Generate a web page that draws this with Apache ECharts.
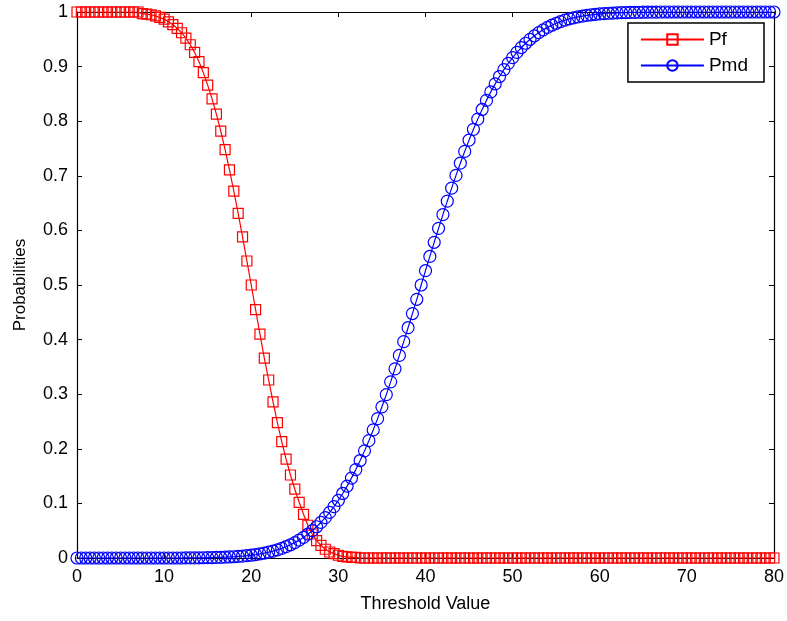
<!DOCTYPE html>
<html>
<head>
<meta charset="utf-8">
<script src="https://cdn.jsdelivr.net/npm/echarts@6/dist/echarts.min.js"></script>
<style>html,body{margin:0;padding:0;background:#fff;}#c{width:787px;height:621px;}</style>
</head>
<body>
<div id="c"></div>
<script>
var thresholds = [
0,0.5,1,1.5,2,2.5,3,3.5,4,4.5,5,5.5,6,6.5,7,7.5,8,8.5,9,9.5,
10,10.5,11,11.5,12,12.5,13,13.5,14,14.5,15,15.5,16,16.5,17,17.5,18,18.5,19,19.5,
20,20.5,21,21.5,22,22.5,23,23.5,24,24.5,25,25.5,26,26.5,27,27.5,28,28.5,29,29.5,
30,30.5,31,31.5,32,32.5,33,33.5,34,34.5,35,35.5,36,36.5,37,37.5,38,38.5,39,39.5,
40,40.5,41,41.5,42,42.5,43,43.5,44,44.5,45,45.5,46,46.5,47,47.5,48,48.5,49,49.5,
50,50.5,51,51.5,52,52.5,53,53.5,54,54.5,55,55.5,56,56.5,57,57.5,58,58.5,59,59.5,
60,60.5,61,61.5,62,62.5,63,63.5,64,64.5,65,65.5,66,66.5,67,67.5,68,68.5,69,69.5,
70,70.5,71,71.5,72,72.5,73,73.5,74,74.5,75,75.5,76,76.5,77,77.5,78,78.5,79,79.5,
80];

var pf = [
1,1,1,1,1,1,1,1,1,1,1,1,1,1,1,
0.997,0.996,0.995,0.993,0.990,0.987,0.982,0.977,0.970,0.962,
0.952,0.940,0.926,0.909,0.889,0.866,0.841,0.813,0.782,0.748,
0.711,0.672,0.631,0.588,0.544,0.500,0.455,0.410,0.366,0.326,
0.286,0.248,0.213,0.181,0.152,0.126,0.102,0.080,0.060,0.044,
0.032,0.023,0.016,0.011,0.008,0.005,0.003,0.002,0.001,0.001,
0,0,0,0,0,0,0,0,0,0,0,0,0,0,0,0,0,0,0,0,
0,0,0,0,0,0,0,0,0,0,0,0,0,0,0,0,0,0,0,0,
0,0,0,0,0,0,0,0,0,0,0,0,0,0,0,0,0,0,0,0,
0,0,0,0,0,0,0,0,0,0,0,0,0,0,0,0,0,0,0,0,
0,0,0,0,0,0,0,0,0,0,0,0,0,0,0,0];

var pmd = [
0,0,0,0,0,0,0,0,0,0,0,0,0,0,0,0,0,0,0,0,0,0,0,0,0,
0.0002,0.0002,0.0003,0.0004,0.0005,0.0006,0.0008,0.0010,0.0012,0.0015,
0.0019,0.0023,0.0029,0.0035,0.0042,0.0051,0.0062,0.0075,0.0089,0.0107,
0.0127,0.0150,0.0176,0.0207,0.0242,0.0282,0.0327,0.0378,0.0436,0.0500,
0.0572,0.0651,0.0739,0.0835,0.0941,0.1056,0.1182,0.1317,0.1463,0.1619,
0.1785,0.1962,0.2149,0.2346,0.2553,0.2769,0.2993,0.3226,0.3465,0.3711,
0.3962,0.4218,0.4477,0.4738,0.5,
0.5262,0.5523,0.5782,0.6038,0.6289,0.6535,0.6774,0.7007,0.7231,0.7447,
0.7654,0.7851,0.8038,0.8215,0.8381,0.8537,0.8683,0.8818,0.8944,0.9059,
0.9165,0.9261,0.9349,0.9428,0.9500,0.9564,0.9622,0.9673,0.9718,0.9758,
0.9793,0.9824,0.9850,0.9873,0.9893,0.9911,0.9925,0.9938,0.9949,0.9958,
0.9965,0.9971,0.9977,0.9981,0.9985,0.9988,0.9990,0.9992,0.9994,0.9995,
0.9996,0.9997,0.9998,0.9998,
1,1,1,1,1,1,1,1,1,1,1,1,1,1,1,1,1,1,1,1,1,1,1,1,1,1,1];

var seriesNames = ['Pf', 'Pmd'];
var xTicks = [0, 80, 10];
var yTicks = [0, 1, 0.1];

function pairs(xs, ys) {
  var out = [];
  for (var i = 0; i < xs.length; i++) out.push([xs[i], ys[i]]);
  return out;
}

var FONT = 'Liberation Sans';
var chart = echarts.init(document.getElementById('c'), null, {renderer: 'canvas'});
var axisCommon = {
  axisLine: {show: true, onZero: false, lineStyle: {color: '#000', width: 1.2}},
  axisTick: {show: true, inside: true, length: 5, lineStyle: {color: '#000'}},
  splitLine: {show: false}
};
chart.setOption({
  animation: false,
  backgroundColor: '#fff',
  grid: {left: 77, right: 11, top: 12, bottom: 63},
  legend: {
    data: seriesNames,
    orient: 'vertical',
    right: 23, top: 23,
    padding: [7, 16, 7, 12],
    itemGap: 7,
    itemWidth: 63, itemHeight: 13,
    borderColor: '#000', borderWidth: 1.5,
    backgroundColor: '#fff',
    textStyle: {fontFamily: FONT, fontSize: 19, color: '#000'}
  },
  xAxis: [
    Object.assign({
      type: 'value', min: xTicks[0], max: xTicks[1], interval: xTicks[2],
      name: 'Threshold Value', nameLocation: 'middle', nameGap: 37,
      nameTextStyle: {fontFamily: FONT, fontSize: 18, color: '#000'},
      axisLabel: {fontFamily: FONT, fontSize: 18, color: '#000', margin: 10}
    }, axisCommon),
    Object.assign({
      type: 'value', position: 'top', min: xTicks[0], max: xTicks[1], interval: xTicks[2],
      axisLabel: {show: false}
    }, axisCommon)
  ],
  yAxis: [
    Object.assign({
      type: 'value', min: yTicks[0], max: yTicks[1], interval: yTicks[2],
      name: 'Probabilities', nameLocation: 'middle', nameGap: 48,
      nameTextStyle: {fontFamily: FONT, fontSize: 17, color: '#000'},
      axisLabel: {fontFamily: FONT, fontSize: 18, color: '#000', margin: 9}
    }, axisCommon),
    Object.assign({
      type: 'value', position: 'right', min: yTicks[0], max: yTicks[1], interval: yTicks[2],
      axisLabel: {show: false}
    }, axisCommon)
  ],
  series: [
    {
      name: seriesNames[0], type: 'line', data: pairs(thresholds, pf),
      symbol: 'rect', symbolSize: 10, showAllSymbol: true,
      color: '#ff0000',
      lineStyle: {color: '#ff0000', width: 1.2},
      itemStyle: {color: 'rgba(255,255,255,0)', borderColor: '#ff0000', borderWidth: 1.2},
      z: 3
    },
    {
      name: seriesNames[1], type: 'line', data: pairs(thresholds, pmd),
      symbol: 'circle', symbolSize: 12, showAllSymbol: true,
      color: '#0000ff',
      lineStyle: {color: '#0000ff', width: 1.2},
      itemStyle: {color: 'rgba(255,255,255,0)', borderColor: '#0000ff', borderWidth: 1.2},
      z: 4
    }
  ]
});
</script>
</body>
</html>
